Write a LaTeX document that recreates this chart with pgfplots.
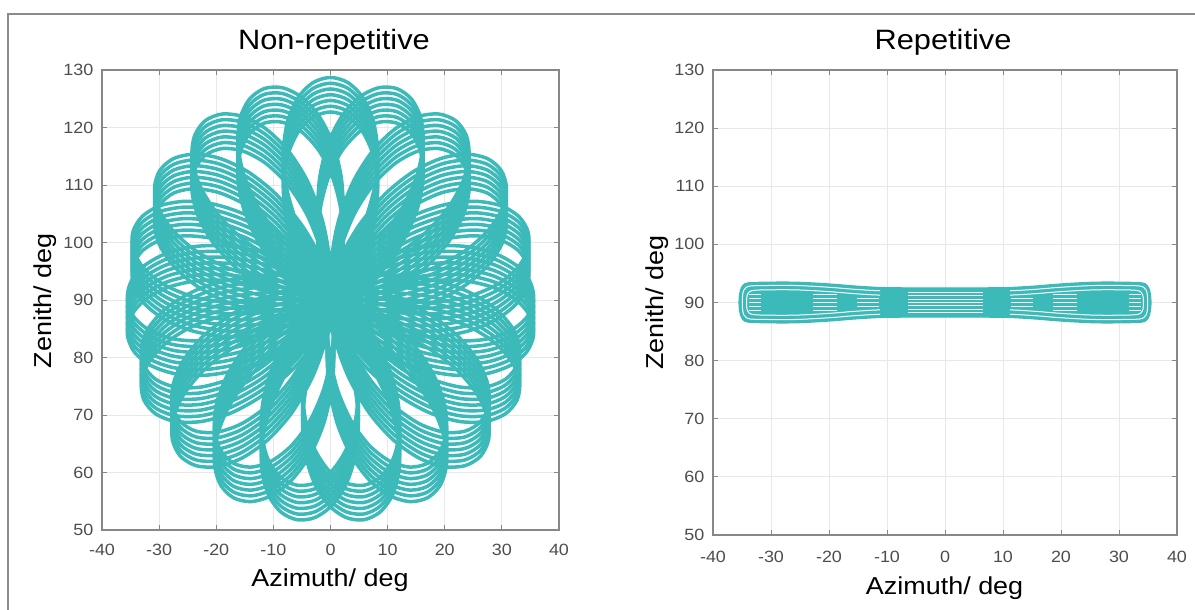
\documentclass[border=0pt]{standalone}
\usepackage{pgfplots}
\usepackage{pgfplotstable}
\pgfplotsset{compat=1.18}
\usepackage{fontspec}
\setmainfont{Liberation Sans}[FakeStretch=1.1]
\definecolor{teal1}{RGB}{60,185,185}
\definecolor{axgray}{RGB}{135,135,135}
\definecolor{tickgray}{RGB}{77,77,77}
\definecolor{gridgray}{RGB}{232,232,232}
\definecolor{framegray}{RGB}{140,140,140}
\newcommand\ticksize{\fontsize{16.3pt}{19pt}\selectfont}
\newcommand\labsize{\fontsize{24.5pt}{28pt}\selectfont}
\newcommand\titsize{\fontsize{28pt}{32pt}\selectfont}

% one pass of the rosette: (angle in deg, radius in deg), centred on (0,90)
\pgfplotstableread{
a r
52.1 0
56 5.74
60 11.48
65 18.19
70 24.12
75 29.02
80 32.68
85 34.94
90 35.70
95 34.94
100 32.68
105 29.02
110 24.12
115 18.19
120 11.48
124 5.74
71.05 0
74.95 5.74
78.95 11.48
83.95 18.19
88.95 24.12
93.95 29.02
98.95 32.68
103.95 34.94
108.95 35.70
113.95 34.94
118.95 32.68
123.95 29.02
128.95 24.12
133.95 18.19
138.95 11.48
142.95 5.74
89.99 0
93.89 5.74
97.89 11.48
102.89 18.19
107.89 24.12
112.89 29.02
117.89 32.68
122.89 34.94
127.89 35.70
132.89 34.94
137.89 32.68
142.89 29.02
147.89 24.12
152.89 18.19
157.89 11.48
161.89 5.74
108.94 0
112.84 5.74
116.84 11.48
121.84 18.19
126.84 24.12
131.84 29.02
136.84 32.68
141.84 34.94
146.84 35.70
151.84 34.94
156.84 32.68
161.84 29.02
166.84 24.12
171.84 18.19
176.84 11.48
180.84 5.74
127.89 0
131.79 5.74
135.79 11.48
140.79 18.19
145.79 24.12
150.79 29.02
155.79 32.68
160.79 34.94
165.79 35.70
170.79 34.94
175.79 32.68
180.79 29.02
185.79 24.12
190.79 18.19
195.79 11.48
199.79 5.74
146.84 0
150.74 5.74
154.74 11.48
159.74 18.19
164.74 24.12
169.74 29.02
174.74 32.68
179.74 34.94
184.74 35.70
189.74 34.94
194.74 32.68
199.74 29.02
204.74 24.12
209.74 18.19
214.74 11.48
218.74 5.74
165.78 0
169.68 5.74
173.68 11.48
178.68 18.19
183.68 24.12
188.68 29.02
193.68 32.68
198.68 34.94
203.68 35.70
208.68 34.94
213.68 32.68
218.68 29.02
223.68 24.12
228.68 18.19
233.68 11.48
237.68 5.74
184.73 0
188.63 5.74
192.63 11.48
197.63 18.19
202.63 24.12
207.63 29.02
212.63 32.68
217.63 34.94
222.63 35.70
227.63 34.94
232.63 32.68
237.63 29.02
242.63 24.12
247.63 18.19
252.63 11.48
256.63 5.74
203.68 0
207.58 5.74
211.58 11.48
216.58 18.19
221.58 24.12
226.58 29.02
231.58 32.68
236.58 34.94
241.58 35.70
246.58 34.94
251.58 32.68
256.58 29.02
261.58 24.12
266.58 18.19
271.58 11.48
275.58 5.74
222.63 0
226.53 5.74
230.53 11.48
235.53 18.19
240.53 24.12
245.53 29.02
250.53 32.68
255.53 34.94
260.53 35.70
265.53 34.94
270.53 32.68
275.53 29.02
280.53 24.12
285.53 18.19
290.53 11.48
294.53 5.74
241.57 0
245.47 5.74
249.47 11.48
254.47 18.19
259.47 24.12
264.47 29.02
269.47 32.68
274.47 34.94
279.47 35.70
284.47 34.94
289.47 32.68
294.47 29.02
299.47 24.12
304.47 18.19
309.47 11.48
313.47 5.74
260.52 0
264.42 5.74
268.42 11.48
273.42 18.19
278.42 24.12
283.42 29.02
288.42 32.68
293.42 34.94
298.42 35.70
303.42 34.94
308.42 32.68
313.42 29.02
318.42 24.12
323.42 18.19
328.42 11.48
332.42 5.74
279.47 0
283.37 5.74
287.37 11.48
292.37 18.19
297.37 24.12
302.37 29.02
307.37 32.68
312.37 34.94
317.37 35.70
322.37 34.94
327.37 32.68
332.37 29.02
337.37 24.12
342.37 18.19
347.37 11.48
351.37 5.74
298.42 0
302.32 5.74
306.32 11.48
311.32 18.19
316.32 24.12
321.32 29.02
326.32 32.68
331.32 34.94
336.32 35.70
341.32 34.94
346.32 32.68
351.32 29.02
356.32 24.12
361.32 18.19
366.32 11.48
370.32 5.74
317.36 0
321.26 5.74
325.26 11.48
330.26 18.19
335.26 24.12
340.26 29.02
345.26 32.68
350.26 34.94
355.26 35.70
360.26 34.94
365.26 32.68
370.26 29.02
375.26 24.12
380.26 18.19
385.26 11.48
389.26 5.74
336.31 0
340.21 5.74
344.21 11.48
349.21 18.19
354.21 24.12
359.21 29.02
364.21 32.68
369.21 34.94
374.21 35.70
379.21 34.94
384.21 32.68
389.21 29.02
394.21 24.12
399.21 18.19
404.21 11.48
408.21 5.74
355.26 0
359.16 5.74
363.16 11.48
368.16 18.19
373.16 24.12
378.16 29.02
383.16 32.68
388.16 34.94
393.16 35.70
398.16 34.94
403.16 32.68
408.16 29.02
413.16 24.12
418.16 18.19
423.16 11.48
427.16 5.74
374.21 0
378.11 5.74
382.11 11.48
387.11 18.19
392.11 24.12
397.11 29.02
402.11 32.68
407.11 34.94
412.11 35.70
417.11 34.94
422.11 32.68
427.11 29.02
432.11 24.12
437.11 18.19
442.11 11.48
446.11 5.74
393.15 0
397.05 5.74
401.05 11.48
406.05 18.19
411.05 24.12
416.05 29.02
421.05 32.68
426.05 34.94
431.05 35.70
436.05 34.94
441.05 32.68
446.05 29.02
451.05 24.12
456.05 18.19
461.05 11.48
465.05 5.74
468.95 0
}\rosette

% outline of the repetitive band
\pgfplotstableread{
x y
-35.5 90.0
-35.4 91.4
-35.1 92.5
-34.5 93.2
-33.5 93.4
-32 93.45
-28 93.5
-25 93.45
-22 93.3
-19 93.1
-16 92.85
-13 92.65
-10 92.52
-5 92.5
0 92.5
5 92.5
10 92.52
13 92.65
16 92.85
19 93.1
22 93.3
25 93.45
28 93.5
32 93.45
33.5 93.4
34.5 93.2
35.1 92.5
35.4 91.4
35.5 90.0
35.4 88.6
35.1 87.5
34.5 86.8
33.5 86.6
32 86.55
28 86.5
25 86.55
22 86.7
19 86.9
16 87.15
13 87.35
10 87.48
5 87.5
0 87.5
-5 87.5
-10 87.48
-13 87.35
-16 87.15
-19 86.9
-22 86.7
-25 86.55
-28 86.5
-32 86.55
-33.5 86.6
-34.5 86.8
-35.1 87.5
-35.4 88.6
-35.5 90.0
}\bandoutline

% gaps between the nested scan lines near the band edge
\pgfplotstableread{
x y
11.2 92.02
13 92.10
16 92.30
19 92.55
22 92.75
25 92.9
28 92.95
32 92.9
33.5 92.85
34.25 92.62
34.7 92.1
34.9 91.2
34.95 90
34.9 88.8
34.7 87.9
34.25 87.38
33.5 87.15
32 87.1
28 87.05
25 87.1
22 87.25
19 87.45
16 87.7
13 87.9
11.2 87.98
nan nan
11.2 91.27
13 91.35
16 91.55
19 91.8
22 92.0
25 92.15
28 92.2
32 92.15
33.2 92.05
33.8 91.8
34.1 91.3
34.2 90.6
34.2 90
34.2 89.4
34.1 88.7
33.8 88.2
33.2 87.95
32 87.85
28 87.8
25 87.85
22 88.0
19 88.2
16 88.45
13 88.65
11.2 88.73
nan nan
-11.2 92.02
-13 92.10
-16 92.30
-19 92.55
-22 92.75
-25 92.9
-28 92.95
-32 92.9
-33.5 92.85
-34.25 92.62
-34.7 92.1
-34.9 91.2
-34.95 90
-34.9 88.8
-34.7 87.9
-34.25 87.38
-33.5 87.15
-32 87.1
-28 87.05
-25 87.1
-22 87.25
-19 87.45
-16 87.7
-13 87.9
-11.2 87.98
nan nan
-11.2 91.27
-13 91.35
-16 91.55
-19 91.8
-22 92.0
-25 92.15
-28 92.2
-32 92.15
-33.2 92.05
-33.8 91.8
-34.1 91.3
-34.2 90.6
-34.2 90
-34.2 89.4
-34.1 88.7
-33.8 88.2
-33.2 87.95
-32 87.85
-28 87.8
-25 87.85
-22 88.0
-19 88.2
-16 88.45
-13 88.65
-11.2 88.73
}\bandedges

% short gaps between scan lines inside the band
\pgfplotstableread{
x y
-33.8 88.7
-31.7 88.7
nan nan
-33.8 89.35
-31.7 89.35
nan nan
-33.8 90.0
-31.7 90.0
nan nan
-33.8 90.65
-31.7 90.65
nan nan
-33.8 91.3
-31.7 91.3
nan nan
31.7 88.7
33.8 88.7
nan nan
31.7 89.35
33.8 89.35
nan nan
31.7 90.0
33.8 90.0
nan nan
31.7 90.65
33.8 90.65
nan nan
31.7 91.3
33.8 91.3
nan nan
-22.7 88.7
-18.7 88.7
nan nan
-22.7 89.35
-18.7 89.35
nan nan
-22.7 90.0
-18.7 90.0
nan nan
-22.7 90.65
-18.7 90.65
nan nan
-22.7 91.3
-18.7 91.3
nan nan
18.7 88.7
22.7 88.7
nan nan
18.7 89.35
22.7 89.35
nan nan
18.7 90.0
22.7 90.0
nan nan
18.7 90.65
22.7 90.65
nan nan
18.7 91.3
22.7 91.3
nan nan
-15.2 89.35
-11.3 89.35
nan nan
-15.2 90.0
-11.3 90.0
nan nan
-15.2 90.65
-11.3 90.65
nan nan
11.4 89.35
15.2 89.35
nan nan
11.4 90.0
15.2 90.0
nan nan
11.4 90.65
15.2 90.65
nan nan
-6.4 88.2
6.5 88.2
nan nan
-6.4 88.8
6.5 88.8
nan nan
-6.4 89.4
6.5 89.4
nan nan
-6.4 90.0
6.5 90.0
nan nan
-6.4 90.6
6.5 90.6
nan nan
-6.4 91.2
6.5 91.2
nan nan
-6.4 91.8
6.5 91.8
}\banddashes

\pgfplotsset{myax/.style={
  scale only axis, anchor=south west,
  xmin=-40, xmax=40, ymin=50, ymax=130, enlargelimits=false,
  xtick={-40,-30,...,40}, ytick={50,60,...,130},
  xticklabels={-40,-30,-20,-10,0,10,20,30,40},
  yticklabels={50,60,70,80,90,100,110,120,130},
  grid=major, major grid style={gridgray, line width=0.8pt},
  axis line style={axgray, line width=1.1pt},
  tick style={axgray, line width=0.9pt},
  major tick length=5pt, tick align=inside,
  ticklabel style={font=\ticksize, text=tickgray, inner sep=0pt},
  yticklabel shift=8.5pt,
  clip=true,
}}

\begin{document}
\begin{tikzpicture}
\path[use as bounding box] (0pt,0pt) rectangle (1195pt,610pt);
\draw[framegray, line width=2pt] (8pt,0pt) -- (8pt,596pt) -- (1195pt,596pt);

\begin{axis}[myax, at={(102pt,80pt)}, width=457pt, height=460pt, xticklabel shift=14pt]
\addplot[teal1, line width=3.5pt, smooth, data cs=polar, yshift=500.25pt] table {\rosette};
\addplot[teal1, line width=3.5pt, smooth, data cs=polar, yshift=506pt] table {\rosette};
\addplot[teal1, line width=3.5pt, smooth, data cs=polar, yshift=511.75pt] table {\rosette};
\addplot[teal1, line width=3.5pt, smooth, data cs=polar, yshift=517.5pt] table {\rosette};
\addplot[teal1, line width=3.5pt, smooth, data cs=polar, yshift=523.25pt] table {\rosette};
\addplot[teal1, line width=3.5pt, smooth, data cs=polar, yshift=529pt] table {\rosette};
\addplot[teal1, line width=3.5pt, smooth, data cs=polar, yshift=534.75pt] table {\rosette};
\end{axis}

\begin{axis}[myax, at={(713pt,75pt)}, width=464pt, height=465pt, xticklabel shift=15.5pt]
\addplot[fill=teal1, draw=teal1, line width=1.4pt, smooth] table {\bandoutline};
\addplot[white, line width=1pt, smooth, unbounded coords=jump] table {\bandedges};
\addplot[white, line width=1pt, unbounded coords=jump] table {\banddashes};
\end{axis}

\node[font=\titsize, anchor=base] at (334pt,560pt) {Non-repetitive};
\node[font=\titsize, anchor=base] at (943pt,560pt) {Repetitive};
\node[font=\labsize, anchor=base] at (330pt,23pt) {Azimuth/ deg};
\node[font=\labsize, anchor=base] at (944.6pt,15pt) {Azimuth/ deg};
\node[font=\labsize, anchor=base, rotate=90] at (51.7pt,309.3pt) {Zenith/ deg};
\node[font=\labsize, anchor=base, rotate=90] at (663pt,307.5pt) {Zenith/ deg};
\end{tikzpicture}
\end{document}
